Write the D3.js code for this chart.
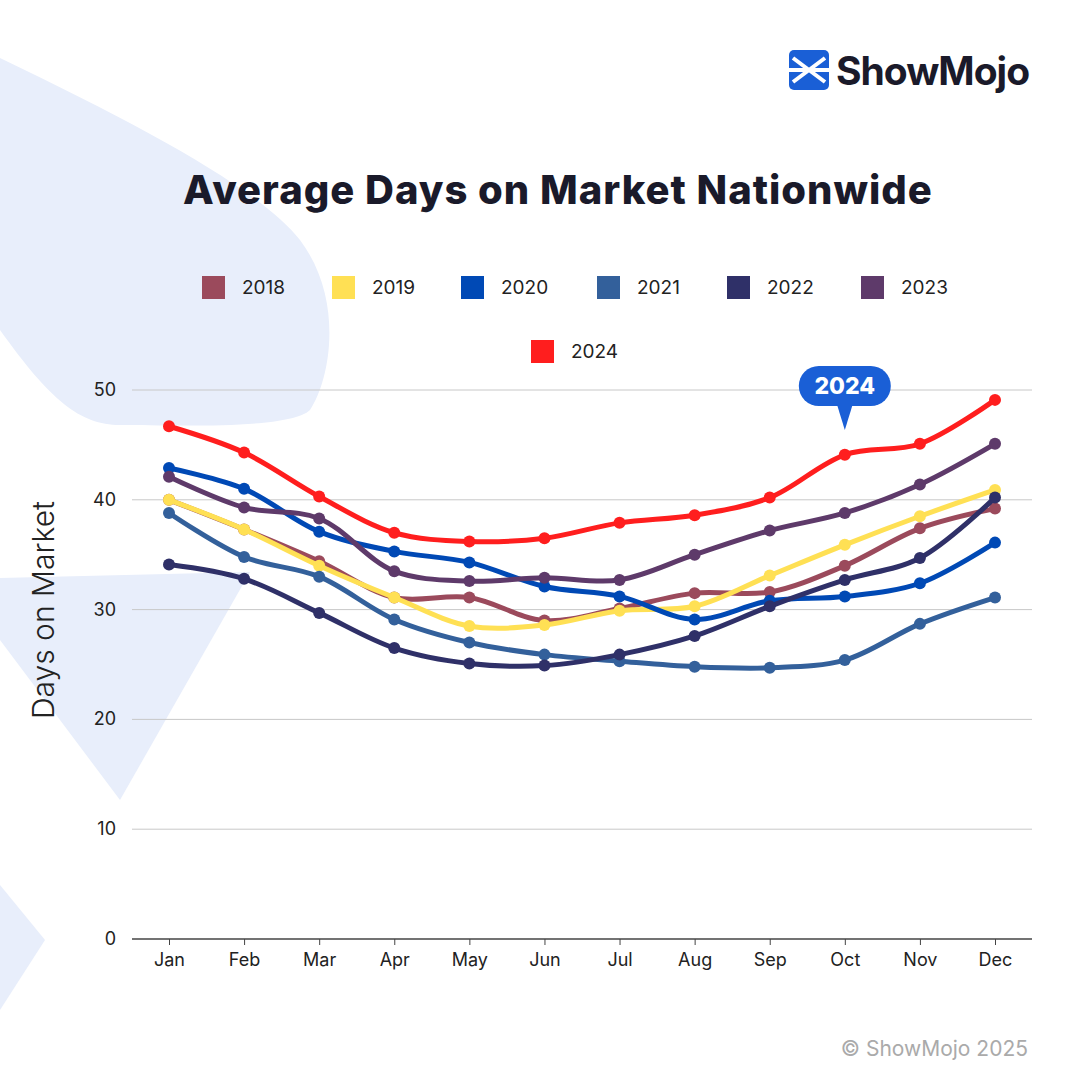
<!DOCTYPE html>
<html><head><meta charset="utf-8">
<script src="https://cdn.jsdelivr.net/npm/d3@7"></script>
<style>body{margin:0;background:#fff}svg{display:block}</style>
</head><body>
<script>
var months = ["Jan","Feb","Mar","Apr","May","Jun","Jul","Aug","Sep","Oct","Nov","Dec"];
var years = ["2018","2019","2020","2021","2022","2023","2024"];
var colors = ["#9b4a5c","#ffe054","#0049b5","#33609b","#2f3068","#5e3a6a","#ff1e1e"];
var v2018 = [40.0,37.3,34.4,31.1,31.1,29.0,30.1,31.5,31.6,34.0,37.4,39.2];
var v2019 = [40.0,37.3,34.0,31.1,28.5,28.6,29.9,30.3,33.1,35.9,38.5,40.9];
var v2020 = [42.9,41.0,37.1,35.3,34.3,32.1,31.2,29.1,30.8,31.2,32.4,36.1];
var v2021 = [38.8,34.8,33.0,29.1,27.0,25.9,25.3,24.8,24.7,25.4,28.7,31.1];
var v2022 = [34.1,32.8,29.7,26.5,25.1,24.9,25.9,27.6,30.3,32.7,34.7,40.2];
var v2023 = [42.1,39.3,38.3,33.5,32.6,32.9,32.7,35.0,37.2,38.8,41.4,45.1];
var v2024 = [46.7,44.3,40.3,37.0,36.2,36.5,37.9,38.6,40.2,44.1,45.1,49.1];
var yTicks = [0,10,20,30,40,50];
var series = [v2018,v2019,v2020,v2021,v2022,v2023,v2024];

var svg = d3.select("body").append("svg").attr("width",1080).attr("height",1080);
var bg = "#e8eefb";
// background decorations
svg.append("path").attr("fill",bg).attr("d","M0,58 C150,130 260,190 300,240 C345,300 330,380 310,410 C290,430 170,425 120,425 C80,425 50,400 0,330 Z");
svg.append("path").attr("fill",bg).attr("d","M0,578 L250,572 L120,800 L0,640 Z");
svg.append("path").attr("fill",bg).attr("d","M0,885 L45,940 L0,1010 Z");

// logo
var lg = svg.append("g").attr("transform","translate(789,50)");
lg.append("rect").attr("width",40).attr("height",40).attr("rx",5).attr("fill","#1a5fd6");
lg.append("path").attr("d","M4,8 L36,32 M4,32 L36,8 M0,20 L40,20").attr("stroke","#fff").attr("stroke-width",4);
svg.append("text").attr("x",836).attr("y",85).attr("font-family","Inter, sans-serif").attr("font-weight",700)
  .attr("font-size",39).attr("fill","#1a1a2a").attr("letter-spacing",-1).text("ShowMojo");

svg.append("text").attr("x",558).attr("y",204).attr("text-anchor","middle").attr("font-family","Inter, sans-serif")
  .attr("font-weight",800).attr("font-size",40).attr("letter-spacing",1).attr("fill","#1a1a2a").text("Average Days on Market Nationwide");

// legend
var legPos = [[202,287],[332,287],[461,287],[597,287],[727,287],[861,287],[531,351]];
years.forEach(function(y,i){
  var g = svg.append("g").attr("transform","translate("+legPos[i][0]+","+legPos[i][1]+")");
  g.append("rect").attr("x",0).attr("y",-11).attr("width",23).attr("height",23).attr("fill",colors[i]);
  g.append("text").attr("x",40).attr("y",7).attr("font-family","Inter, sans-serif").attr("font-size",19).attr("fill","#222").text(y);
});

var x = d3.scalePoint().domain(months).range([169,995]);
var yS = d3.scaleLinear().domain([0,50]).range([939,390]);

var grid = svg.append("g");
yTicks.forEach(function(t){
  grid.append("line").attr("x1",132).attr("x2",1032).attr("y1",yS(t)).attr("y2",yS(t))
    .attr("stroke", t===0 ? "#444" : "#c8c8c8").attr("stroke-width", t===0?1.5:1);
  grid.append("text").attr("x",116).attr("y",yS(t)+6).attr("text-anchor","end").attr("font-family","Inter, sans-serif")
    .attr("font-size",18).attr("fill","#222").text(t);
});
var xAxis = svg.append("g").attr("transform","translate(0,939)").call(d3.axisBottom(x).tickSize(6).tickPadding(8));
xAxis.select(".domain").remove();
xAxis.selectAll("line").attr("stroke","#444");
xAxis.selectAll("text").attr("font-family","Inter, sans-serif").attr("font-size",18).attr("fill","#222");

svg.append("text").attr("transform","translate(54,610) rotate(-90)").attr("text-anchor","middle")
  .attr("font-family","Inter, sans-serif").attr("font-weight",300).attr("font-size",30).attr("fill","#222").text("Days on Market");

var line = d3.line().x(function(d,i){return x(months[i]);}).y(function(d){return yS(d);}).curve(d3.curveCatmullRom.alpha(0.5));
series.forEach(function(s,i){
  svg.append("path").datum(s).attr("d",line).attr("fill","none").attr("stroke",colors[i]).attr("stroke-width",5);
  svg.selectAll(null).data(s).enter().append("circle")
    .attr("cx",function(d,j){return x(months[j]);}).attr("cy",function(d){return yS(d);})
    .attr("r",6).attr("fill",colors[i]);
});

// callout
var cx = x("Oct");
var cg = svg.append("g");
cg.append("rect").attr("x",cx-46).attr("y",366).attr("width",92).attr("height",40).attr("rx",20).attr("fill","#1a5fd6");
cg.append("path").attr("d","M"+(cx-8)+",404 L"+cx+",430 L"+(cx+8)+",404 Z").attr("fill","#1a5fd6");
cg.append("text").attr("x",cx).attr("y",394).attr("text-anchor","middle").attr("font-family","Inter, sans-serif")
  .attr("font-weight",800).attr("font-size",23).attr("fill","#fff").text("2024");

svg.append("text").attr("x",1028).attr("y",1056).attr("text-anchor","end").attr("font-family","Inter, sans-serif")
  .attr("font-size",21).attr("fill","#aaa").text("© ShowMojo 2025");
</script>
</body></html>
